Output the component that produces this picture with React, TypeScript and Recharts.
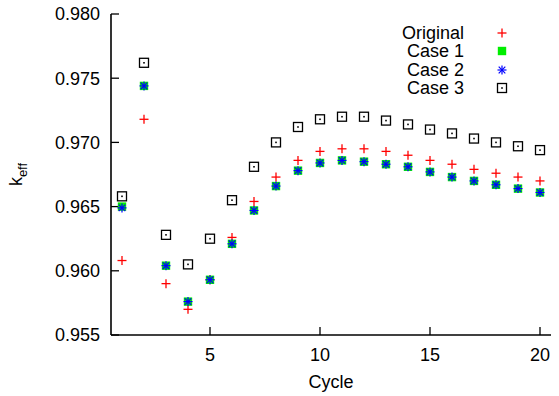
import React from 'react';
import { ScatterChart, Scatter, XAxis, YAxis, Legend, Label } from 'recharts';

const cycles = [1, 2, 3, 4, 5, 6, 7, 8, 9, 10, 11, 12, 13, 14, 15, 16, 17, 18, 19, 20];
const original = [0.9608, 0.9718, 0.959, 0.957, 0.9593, 0.9626, 0.9654, 0.9673, 0.9686, 0.9693, 0.9695, 0.9695, 0.9693, 0.969, 0.9686, 0.9683, 0.9679, 0.9676, 0.9673, 0.967];
const case1 = [0.965, 0.9744, 0.9604, 0.9576, 0.9593, 0.9621, 0.9647, 0.9666, 0.9678, 0.9684, 0.9686, 0.9685, 0.9683, 0.9681, 0.9677, 0.9673, 0.967, 0.9667, 0.9664, 0.9661];
const case2 = [0.9649, 0.9744, 0.9604, 0.9576, 0.9593, 0.9621, 0.9647, 0.9666, 0.9678, 0.9684, 0.9686, 0.9685, 0.9683, 0.9681, 0.9677, 0.9673, 0.967, 0.9667, 0.9664, 0.9661];
const case3 = [0.9658, 0.9762, 0.9628, 0.9605, 0.9625, 0.9655, 0.9681, 0.97, 0.9712, 0.9718, 0.972, 0.972, 0.9717, 0.9714, 0.971, 0.9707, 0.9703, 0.97, 0.9697, 0.9694];
const xTicks = [5, 10, 15, 20];
const yTicks = [0.955, 0.96, 0.965, 0.97, 0.975, 0.98];

const toPoints = (vals: number[]) => cycles.map((c, i) => ({ x: c, y: vals[i] }));

const FONT = '"Liberation Sans", Arial, Helvetica, sans-serif';

// gnuplot-style point types
const PlusMark = ({ cx, cy }: any) => (
  <g stroke="#ff0000" strokeWidth={1.3}>
    <line x1={cx - 4.5} y1={cy} x2={cx + 4.5} y2={cy} />
    <line x1={cx} y1={cy - 4.5} x2={cx} y2={cy + 4.5} />
  </g>
);

const FilledSquare = ({ cx, cy }: any) => (
  <rect x={cx - 4.2} y={cy - 4.2} width={8.4} height={8.4} fill="#00ee00" />
);

const StarMark = ({ cx, cy }: any) => (
  <g stroke="#0000ff" strokeWidth={1.2}>
    <line x1={cx - 4.5} y1={cy} x2={cx + 4.5} y2={cy} />
    <line x1={cx} y1={cy - 4.5} x2={cx} y2={cy + 4.5} />
    <line x1={cx - 3.3} y1={cy - 3.3} x2={cx + 3.3} y2={cy + 3.3} />
    <line x1={cx - 3.3} y1={cy + 3.3} x2={cx + 3.3} y2={cy - 3.3} />
  </g>
);

const DotSquare = ({ cx, cy }: any) => (
  <g>
    <rect x={cx - 4.5} y={cy - 4.5} width={9} height={9} fill="none" stroke="#000" strokeWidth={1.3} />
    <rect x={cx - 0.8} y={cy - 0.8} width={1.6} height={1.6} fill="#000" />
  </g>
);

const series = [
  { name: 'Original', vals: original, Mark: PlusMark },
  { name: 'Case 1', vals: case1, Mark: FilledSquare },
  { name: 'Case 2', vals: case2, Mark: StarMark },
  { name: 'Case 3', vals: case3, Mark: DotSquare },
];

const KeyBox = () => (
  <div style={{ fontFamily: FONT, fontSize: 18, color: '#000' }}>
    {series.map((s) => (
      <div key={s.name} style={{ display: 'flex', alignItems: 'center', height: 18.5 }}>
        <span style={{ width: 110, textAlign: 'right', lineHeight: '18.5px' }}>{s.name}</span>
        <svg width={20} height={18} style={{ marginLeft: 28 }}>
          <s.Mark cx={10} cy={9} />
        </svg>
      </div>
    ))}
  </div>
);

const YTitle = ({ viewBox }: any) => {
  const cx = viewBox.x + 22;
  const cy = viewBox.y + viewBox.height / 2;
  return (
    <text
      x={cx}
      y={cy}
      transform={`rotate(-90 ${cx} ${cy})`}
      textAnchor="middle"
      fontFamily={FONT}
      fill="#000"
    >
      <tspan fontSize={18}>k</tspan>
      <tspan fontSize={13} dy={5}>eff</tspan>
    </text>
  );
};

const XTitle = ({ viewBox }: any) => (
  <text
    x={viewBox.x + viewBox.width / 2}
    y={viewBox.y + 53}
    textAnchor="middle"
    fontFamily={FONT}
    fontSize={18}
    fill="#000"
  >
    Cycle
  </text>
);

const axisLine = { stroke: '#000', strokeWidth: 1.6 };
const tickLine = { stroke: '#000', strokeWidth: 1.3 };
const tickFont = { fill: '#000', fontSize: 18, fontFamily: FONT };
const noLabel = () => <g />;

export default function App() {
  return (
    <div style={{ position: 'absolute', left: 0, top: 0, background: '#fff' }}>
      <ScatterChart width={559} height={396} margin={{ top: 14, right: 8, bottom: 0, left: 0 }}>
        <XAxis
          type="number"
          dataKey="x"
          domain={[0.5, 20.5]}
          ticks={xTicks}
          height={61}
          tickSize={-8}
          tickMargin={21}
          axisLine={axisLine}
          tickLine={tickLine}
          tick={tickFont}
        >
          <Label content={<XTitle />} />
        </XAxis>
        <XAxis
          xAxisId="top"
          orientation="top"
          type="number"
          domain={[0.5, 20.5]}
          ticks={xTicks}
          height={0}
          tickSize={-8}
          axisLine={axisLine}
          tickLine={tickLine}
          tick={noLabel}
        />
        <YAxis
          type="number"
          dataKey="y"
          domain={[0.955, 0.98]}
          ticks={yTicks}
          width={111}
          tickSize={-8}
          tickMargin={19}
          axisLine={axisLine}
          tickLine={tickLine}
          tick={tickFont}
          tickFormatter={(v: number) => v.toFixed(3)}
        >
          <Label content={<YTitle />} />
        </YAxis>
        <YAxis
          yAxisId="right"
          orientation="right"
          type="number"
          domain={[0.955, 0.98]}
          ticks={yTicks}
          width={0}
          tickSize={-8}
          axisLine={axisLine}
          tickLine={tickLine}
          tick={noLabel}
        />
        <Legend
          layout="vertical"
          align="center"
          verticalAlign="middle"
          content={<KeyBox />}
          wrapperStyle={{ position: 'absolute', top: 23.5, left: 354, width: 160, height: 76 }}
        />
        {series.map((s) => (
          <Scatter
            key={s.name}
            name={s.name}
            data={toPoints(s.vals)}
            shape={(p: any) => <s.Mark cx={p.cx} cy={p.cy} />}
            isAnimationActive={false}
          />
        ))}
      </ScatterChart>
    </div>
  );
}
